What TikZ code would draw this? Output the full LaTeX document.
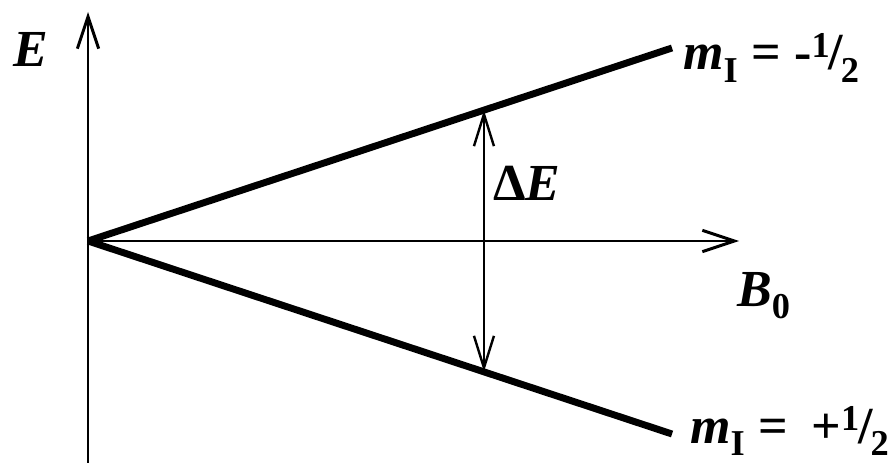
\documentclass[tikz,border=0pt]{standalone}
\usepackage{fontspec}
\setmainfont{Liberation Serif}
\usepackage{tikz}
\usetikzlibrary{arrows.meta, calc}
\tikzset{
  axis/.style={line width=2.2pt, -{Straight Barb[length=24pt, width=16pt]}},
  level/.style={line width=5.2pt},
  gap/.style={line width=1.8pt, {Straight Barb[length=24pt, width=15pt]}-{Straight Barb[length=24pt, width=15pt]}},
  lbl/.style={inner sep=0pt, anchor=base west, font=\fontsize{39}{41}\selectfont\bfseries}
}
\newcommand{\mi}{{\itshape m}\textsubscript{I}}
\newcommand{\half}{\textsuperscript{1}\kern-1.5pt/\kern-1.5pt\textsubscript{2}}

\begin{document}
\begin{tikzpicture}[x=0.75pt, y=-0.75pt]
  \useasboundingbox (0,0) rectangle (891,463);
  % Points
  \coordinate (origin) at (88,241);
  \coordinate (etop) at (88,12);
  \coordinate (ebot) at (88,463);
  \coordinate (bend) at (739,241);
  \coordinate (upper) at (672,48);
  \coordinate (lower) at (672,434);
  \coordinate (gaptop) at ($(origin)!0.678!(upper)$);
  \coordinate (gapbot) at ($(origin)!0.678!(lower)$);

  % Axes
  \draw[axis] (ebot) -- (etop);
  \draw[axis] (origin) -- (bend);

  % Levels
  \draw[level] (origin) -- (upper);
  \draw[level] (origin) -- (lower);
  \draw[gap] (gaptop) -- (gapbot);

  % Labels
  \node[lbl] (elabel) at (13,67) {\itshape E};
  \node[lbl] (delabel) at (493,200) {Δ{\itshape E}};
  \node[lbl] (blabel) at (737,306) {{\itshape B}\textsubscript{0}};
  \node[lbl] (mdown) at (683,70) {\mi{} = -\half};
  \node[lbl] (mup) at (690,443) {\mi{} =\hspace{0.45em}+\half};
\end{tikzpicture}
\end{document}
